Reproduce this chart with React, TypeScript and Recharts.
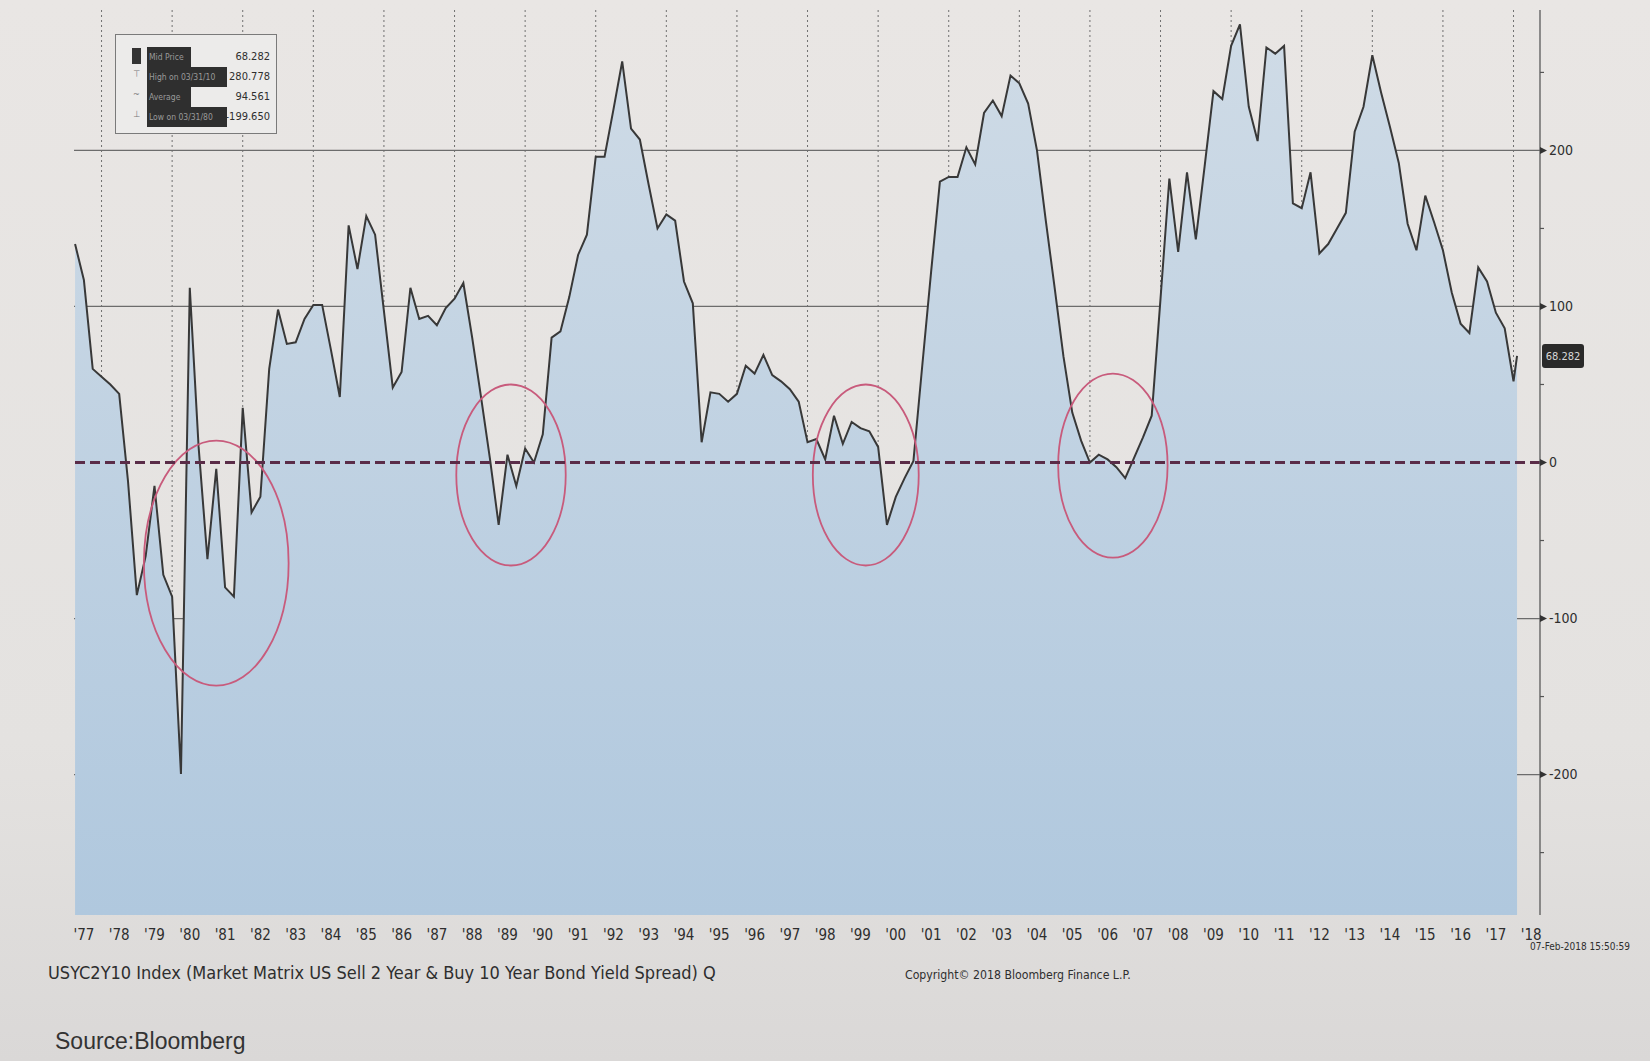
import React from "react";
import {
  Area,
  AreaChart,
  CartesianGrid,
  ReferenceArea,
  ReferenceDot,
  ReferenceLine,
  XAxis,
  YAxis,
} from "recharts";

// USYC2Y10, quarterly, first value = quarter ending Mar-1977
const firstQuarter = 1977.25;
const spread1977to1979 = [140, 117, 60, 55, 50, 44, -12, -85, -60, -15, -72, -86];
const spread1980s = [
  -199.65, 112, 10, -62, -4, -80, -86, 35, -32, -22, 60, 98, 76, 77, 92, 101, 101, 72, 42, 152,
  124, 158, 146, 97, 48, 58, 112, 92, 94, 88, 99, 105, 115, 80, 42, 3, -40, 5, -15, 9,
];
const spread1990s = [
  0, 18, 80, 84, 106, 133, 146, 196, 196, 226, 257, 214, 207, 178, 150, 159, 155, 116, 102, 13,
  45, 44, 39, 44, 62, 57, 69, 56, 52, 47, 39, 13, 15, 2, 30, 12, 26, 22, 20, 10,
];
const spread2000s = [
  -40, -22, -10, 1, 62, 122, 180, 183, 183, 202, 191, 224, 232, 222, 248, 243, 230, 200, 155, 112,
  68, 32, 14, 0, 5, 2, -3, -10, 3, 16, 30, 105, 182, 135, 186, 143, 190, 238, 233, 267,
];
const spread2010s = [
  280.778, 228, 206, 266, 262, 267, 166, 163, 186, 134, 140, 150, 160, 212, 228, 261, 237, 215,
  192, 153, 136, 171, 154, 136, 109, 89, 83, 125, 116, 96, 86, 52,
];
const lastPrice = { t: 2018.1, value: 68.282 };

const yearLabels = [
  "'77", "'78", "'79", "'80", "'81", "'82", "'83", "'84", "'85", "'86", "'87", "'88", "'89", "'90",
  "'91", "'92", "'93", "'94", "'95", "'96", "'97", "'98", "'99", "'00", "'01", "'02", "'03", "'04",
  "'05", "'06", "'07", "'08", "'09", "'10", "'11", "'12", "'13", "'14", "'15", "'16", "'17", "'18",
];
const gridYears = [1978, 1980, 1982, 1984, 1986, 1988, 1990, 1992, 1994, 1996, 1998, 2000, 2002, 2004, 2006, 2008, 2010, 2012, 2014, 2016, 2018];
const yTicks = [-250, -200, -150, -100, -50, 0, 50, 100, 150, 200, 250];
const gridValues = [-200, -100, 100, 200];

const legendRows = [
  { name: "Mid Price", value: "68.282", wide: false },
  { name: "High on 03/31/10", value: "280.778", wide: true },
  { name: "Average", value: "94.561", wide: false },
  { name: "Low on 03/31/80", value: "-199.650", wide: true },
];

// hand drawn rings, in data units
const rings = [
  { x1: 1979.2, x2: 1983.3, y1: -143, y2: 14 },
  { x1: 1988.05, x2: 1991.15, y1: -66, y2: 50 },
  { x1: 1998.15, x2: 2001.15, y1: -66, y2: 50 },
  { x1: 2005.1, x2: 2008.2, y1: -61, y2: 57 },
];

const quarterly = [...spread1977to1979, ...spread1980s, ...spread1990s, ...spread2000s, ...spread2010s];
const rows = quarterly
  .map((v, i) => ({ t: firstQuarter + i * 0.25, spread: v }))
  .concat([{ t: lastPrice.t, spread: lastPrice.value }]);
const xTicks = yearLabels.map((_, i) => 1977.5 + i);

const narrow = "'Liberation Sans Narrow', 'DejaVu Sans Condensed', 'Arial Narrow', sans-serif";
const ink = "#2e2e2e";

function RightTick({ x, y, payload }: any) {
  const v = payload.value;
  if (v % 100 !== 0) return <line x1={x} x2={x + 4} y1={y} y2={y} stroke="#555" strokeWidth={1.2} />;
  return (
    <g>
      <path d={`M${x},${y - 3.5} L${x + 7},${y} L${x},${y + 3.5} Z`} fill="#333" />
      <text x={x + 9} y={y} dy={4.5} fontSize={14} fontFamily={narrow} fill={ink}>
        {v === 0 ? "0" : v < 0 ? `-${Math.abs(v)}` : v}
      </text>
    </g>
  );
}

function Ring(p: any) {
  return (
    <ellipse
      cx={p.x + p.width / 2}
      cy={p.y + p.height / 2}
      rx={p.width / 2}
      ry={p.height / 2}
      fill="none"
      stroke="#c85b7c"
      strokeWidth={1.8}
    />
  );
}

function PriceTag({ cx, cy }: any) {
  return (
    <g>
      <rect x={cx + 2} y={cy - 12} width={42} height={24} rx={3} fill="#2a2a2a" />
      <text x={cx + 23} y={cy} dy={4} textAnchor="middle" fontSize={11} fontFamily={narrow} fill="#d8d8d8">
        {lastPrice.value.toFixed(3)}
      </text>
    </g>
  );
}

export default function App() {
  return (
    <div
      style={{
        position: "fixed",
        left: 0,
        top: 0,
        width: 1650,
        height: 1061,
        overflow: "hidden",
        background: "linear-gradient(180deg, #e9e6e4 0%, #e4e2e0 70%, #dad8d7 100%)",
        fontFamily: narrow,
        color: ink,
      }}
    >
      <AreaChart width={1650} height={1061} data={rows} margin={{ top: 10, right: 40, bottom: 116, left: 74 }}>
        <defs>
          <linearGradient id="spreadFill" x1="0" y1="0" x2="0" y2="1">
            <stop offset="0%" stopColor="#cfdbe6" />
            <stop offset="100%" stopColor="#b0c8de" />
          </linearGradient>
        </defs>
        <XAxis
          type="number"
          dataKey="t"
          domain={[1977.22, 2018.75]}
          ticks={xTicks}
          interval={0}
          axisLine={false}
          tickLine={false}
          height={30}
          tickMargin={8}
          tick={{ fontSize: 15, fontFamily: narrow, fill: ink }}
          tickFormatter={(v: number) => yearLabels[Math.round(v - 1977.5)]}
        />
        <YAxis
          orientation="right"
          type="number"
          domain={[-290, 290]}
          ticks={yTicks}
          interval={0}
          width={70}
          tickSize={0}
          tickMargin={0}
          axisLine={{ stroke: "#5a5a5a", strokeWidth: 1.3 }}
          tickLine={false}
          tick={<RightTick />}
        />
        <Area
          type="linear"
          dataKey="spread"
          baseValue="dataMin"
          stroke="#383838"
          strokeWidth={2}
          fill="url(#spreadFill)"
          fillOpacity={1}
          dot={false}
          activeDot={false}
          isAnimationActive={false}
        />
        <CartesianGrid horizontal={false} verticalValues={gridYears} stroke="#707070" strokeDasharray="2 3" />
        <CartesianGrid vertical={false} horizontalValues={gridValues} stroke="#6c6c6c" strokeWidth={1.2} />
        <ReferenceLine y={0} stroke="#5a2c48" strokeWidth={3} strokeDasharray="10 5" />
        {rings.map((r, i) => (
          <ReferenceArea key={i} x1={r.x1} x2={r.x2} y1={r.y1} y2={r.y2} ifOverflow="visible" shape={<Ring />} />
        ))}
        <ReferenceDot x={2018.75} y={lastPrice.value} r={0} ifOverflow="visible" shape={<PriceTag />} />
      </AreaChart>

      <div
        style={{
          position: "absolute",
          left: 115,
          top: 34,
          width: 162,
          height: 100,
          border: "1.5px solid #7a7a7a",
          background: "#ecebea",
          boxSizing: "border-box",
        }}
      >
        <div style={{ position: "absolute", left: 16, top: 13, width: 9, height: 16, background: "#333" }} />
        {legendRows.map((row, i) => (
          <div key={row.name} style={{ position: "absolute", left: 0, top: 12 + i * 20, width: 160, height: 20 }}>
            {i > 0 && (
              <span style={{ position: "absolute", left: 17, top: 2, fontSize: 9, color: "#777" }}>
                {["", "⊤", "~", "⊥"][i]}
              </span>
            )}
            <span
              style={{
                position: "absolute",
                left: 31,
                top: 0,
                width: row.wide ? 80 : 44,
                height: 20,
                background: "#2f2f2f",
                color: "#9a9a9a",
                fontSize: 8.5,
                lineHeight: "20px",
                paddingLeft: 2,
                boxSizing: "border-box",
                whiteSpace: "nowrap",
              }}
            >
              {row.name}
            </span>
            <span style={{ position: "absolute", right: 6, top: 0, fontSize: 11, lineHeight: "20px" }}>{row.value}</span>
          </div>
        ))}
      </div>

      <div style={{ position: "absolute", left: 48, top: 962, fontSize: 18, whiteSpace: "nowrap" }}>
        USYC2Y10 Index (Market Matrix US Sell 2 Year &amp; Buy 10 Year Bond Yield Spread) Q
      </div>
      <div style={{ position: "absolute", left: 905, top: 968, fontSize: 12.2, whiteSpace: "nowrap" }}>
        Copyright© 2018 Bloomberg Finance L.P.
      </div>
      <div style={{ position: "absolute", left: 1530, top: 941, fontSize: 10, whiteSpace: "nowrap" }}>
        07-Feb-2018 15:50:59
      </div>
      <div
        style={{
          position: "absolute",
          left: 55,
          top: 1028,
          fontSize: 23,
          fontFamily: "'Liberation Sans', Arial, sans-serif",
          color: "#333",
          whiteSpace: "nowrap",
        }}
      >
        Source:Bloomberg
      </div>
    </div>
  );
}
